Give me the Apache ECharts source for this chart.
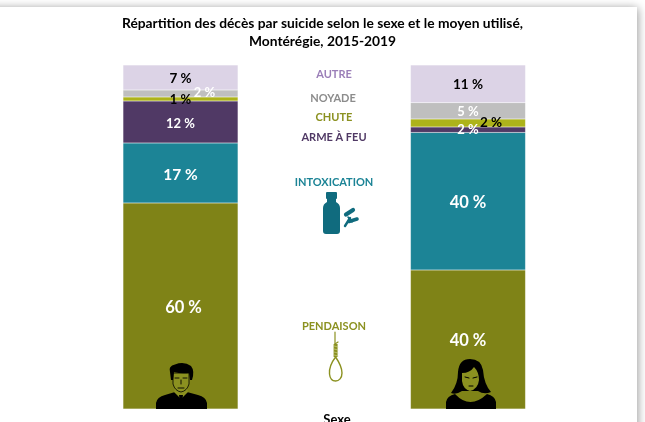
<!DOCTYPE html>
<html>
<head>
<meta charset="utf-8">
<style>
  html, body { margin: 0; padding: 0; background: #fff; overflow: hidden; }
  #chart { width: 645px; height: 422px; }
</style>
<script src="https://cdn.jsdelivr.net/npm/echarts@6/dist/echarts.min.js"></script>
</head>
<body>
<div id="chart"></div>
<script>
const sexes = ['Hommes', 'Femmes']
const pendaison = [59.9, 40.4]
const intoxication = [17.4, 40]
const armeAFeu = [12.2, 1.6]
const chute = [1.2, 2.3]
const noyade = [2, 4.7]
const autre = [7.3, 11]

const FONT = 'Lato'
const OLIVE = '#8b9120'
const TEAL = '#106b7e'

// one label tweak per bar: [x offset, y offset, size, colour]
const barSeries = (name, data, color, labels) => ({
  name,
  type: 'bar',
  stack: 'total',
  barWidth: 115,
  data: data.map((value, i) => ({
    value,
    label: {
      offset: [labels[i][0], labels[i][1]],
      fontSize: labels[i][2],
      color: labels[i][3]
    }
  })),
  itemStyle: { color, borderColor: 'rgba(255,255,255,0.2)', borderWidth: 0.5 },
  label: {
    show: true,
    position: 'inside',
    fontFamily: FONT,
    fontWeight: 'bold',
    formatter: (p) => `${Math.round(p.value)} %`
  }
})

const legendText = (text, y, fill, x = 334) => ({
  type: 'text',
  x,
  y,
  z: 10,
  style: {
    text,
    fill,
    font: `bold 11px ${FONT}`,
    align: 'center',
    verticalAlign: 'middle'
  }
})

// graphic has no plain path type, so each icon piece is registered as a shape
let iconCount = 0
const icon = (d, style) => {
  const type = `icon${iconCount++}`
  echarts.graphic.registerShape(type, echarts.graphic.extendPath(d, {}))
  return { type, z: 20, silent: true, shape: {}, style }
}

const stroke = (color, lineWidth, lineCap = 'round') => ({ fill: 'none', stroke: color, lineWidth, lineCap })

const bottle = [
  icon('M327 192 L336 192 Q337 192 337 193 L337 198 Q337 199 336 199 L327 199 Q326 199 326 198 L326 193 Q326 192 327 192 Z', { fill: TEAL }),
  icon('M327 199 L336 199 L336 202 Q340 204 340 208 L340 231 Q340 234 337 234 L326 234 Q323 234 323 231 L323 208 Q323 204 327 202 Z', { fill: TEAL }),
  icon('M346 214.5 L353 210', stroke(TEAL, 4.2)),
  icon('M349 221.5 L357 219', stroke(TEAL, 3.6)),
  icon('M345 226 L350 218', stroke(TEAL, 2.4)),
  icon('M348 217 L352 222', stroke(TEAL, 1.6))
]

const noose = [
  icon('M335 332 L335 344', stroke(OLIVE, 1.2)),
  icon('M335 344 L338 342', stroke(OLIVE, 1.2)),
  icon('M335.6 344 L335.6 357', stroke(OLIVE, 4, 'butt')),
  icon('M334 346 L338 347 M334 349 L338 350 M334 352 L338 353 M334 355 L338 356', stroke('#d5d8a0', 0.6)),
  icon('M335.6 357 C331 363 329 369 329.5 374 C330 379 333 381 335.6 381 C339 381 342 378 342 373 C342 368 339 362 335.6 357 Z', stroke(OLIVE, 1.4))
]

const man = [
  icon('M156 409 L156 403 Q157 397 165 395 L175 392 L187 392 L198 395 Q206 397 207 403 L207 409 Z', { fill: '#000' }),
  icon('M174 392 L181 399 L188 392 L187 388 L175 388 Z', { fill: OLIVE }),
  icon('M179 395 L183 395 L182.5 399 L184 409 L178 409 L179.5 399 Z', { fill: '#000' }),
  icon('M173 373 L189 373 L189 384 Q187 391 181 392 Q175 391 173 384 Z', { fill: OLIVE, stroke: '#000', lineWidth: 0.8 }),
  icon('M171 380 L170 372 Q168 366 175 364.5 Q184 361 191 366 Q195 371 192 380 L190 380 L189 373 Q181 374 174 372 L173 380 Z', { fill: '#000' }),
  icon('M175 378 L179 378 M183 378 L187 378 M181 380 L181 384 M178 388 L184 388', stroke('#000', 0.9))
]

const woman = [
  icon('M446 409 L446 402 Q447 396 455 394 Q470 410 487 394 Q495 396 496 402 L496 409 Z', { fill: '#000' }),
  icon('M470 359 Q481 359 483 370 Q484 384 491 392 Q484 395 478 391 L462 391 Q456 395 451 393 Q458 384 458 372 Q459 359 470 359 Z', { fill: '#000' }),
  icon('M462 373 Q470 373 474 367 Q479 372 479 380 Q478 389 470 391 Q463 389 462 381 Z', { fill: OLIVE }),
  icon('M465 377 L469 378 M473 378 L477 377 M469 386 L473 386', stroke('#000', 1))
]

const chart = echarts.init(document.getElementById('chart'))

chart.setOption({
  animation: false,
  title: {
    text: 'Répartition des décès par suicide selon le sexe et le moyen utilisé,\nMontérégie, 2015-2019',
    left: 317.5,
    top: 10,
    textAlign: 'center',
    textStyle: {
      fontFamily: FONT,
      fontWeight: 'bold',
      fontSize: 13.8,
      lineHeight: 18,
      color: '#000'
    }
  },
  grid: { left: 36.75, width: 575, top: 65, height: 344 },
  xAxis: {
    type: 'category',
    data: sexes,
    axisLine: { show: false },
    axisTick: { show: false },
    axisLabel: { show: false }
  },
  yAxis: { type: 'value', min: 0, max: 100, show: false },
  series: [
    barSeries('Pendaison', pendaison, '#7f8317', [[3, 2, 16.5, '#fff'], [0, 1, 16.5, '#fff']]),
    barSeries('Intoxication', intoxication, '#1c8496', [[0, 1.5, 15.5, '#fff'], [0, 1.5, 16.5, '#fff']]),
    barSeries('Arme à feu', armeAFeu, '#503965', [[0, 1.5, 13, '#fff'], [0, 0.5, 13, '#fff']]),
    barSeries('Chute', chute, '#adb31a', [[0, 1, 13, '#000'], [23, 0, 13.5, '#000']]),
    barSeries('Noyade', noyade, '#bfbfbf', [[24, -0.5, 13, '#fff'], [0, 0.5, 13, '#fff']]),
    barSeries('Autre', autre, '#dcd3e6', [[0, 1, 13.5, '#000'], [0, 1, 13.5, '#000']])
  ],
  graphic: [
    {
      type: 'rect',
      z: -10,
      silent: true,
      shape: { x: -20, y: 7, width: 657, height: 460 },
      style: { fill: '#fff', shadowBlur: 9, shadowColor: 'rgba(0,0,0,0.4)', shadowOffsetX: 1, shadowOffsetY: 1 }
    },
    legendText('AUTRE', 74, '#9b7fb8'),
    legendText('NOYADE', 98, '#8c8c8c', 333),
    legendText('CHUTE', 117, OLIVE),
    legendText('ARME À FEU', 137, '#503965'),
    legendText('INTOXICATION', 182, '#1c8496'),
    legendText('PENDAISON', 326, OLIVE),
    {
      type: 'text',
      x: 337,
      y: 420,
      z: 10,
      style: { text: 'Sexe', fill: '#000', font: `bold 13px ${FONT}`, align: 'center', verticalAlign: 'middle' }
    },
    ...bottle,
    ...noose,
    ...man,
    ...woman
  ]
})
</script>
</body>
</html>
